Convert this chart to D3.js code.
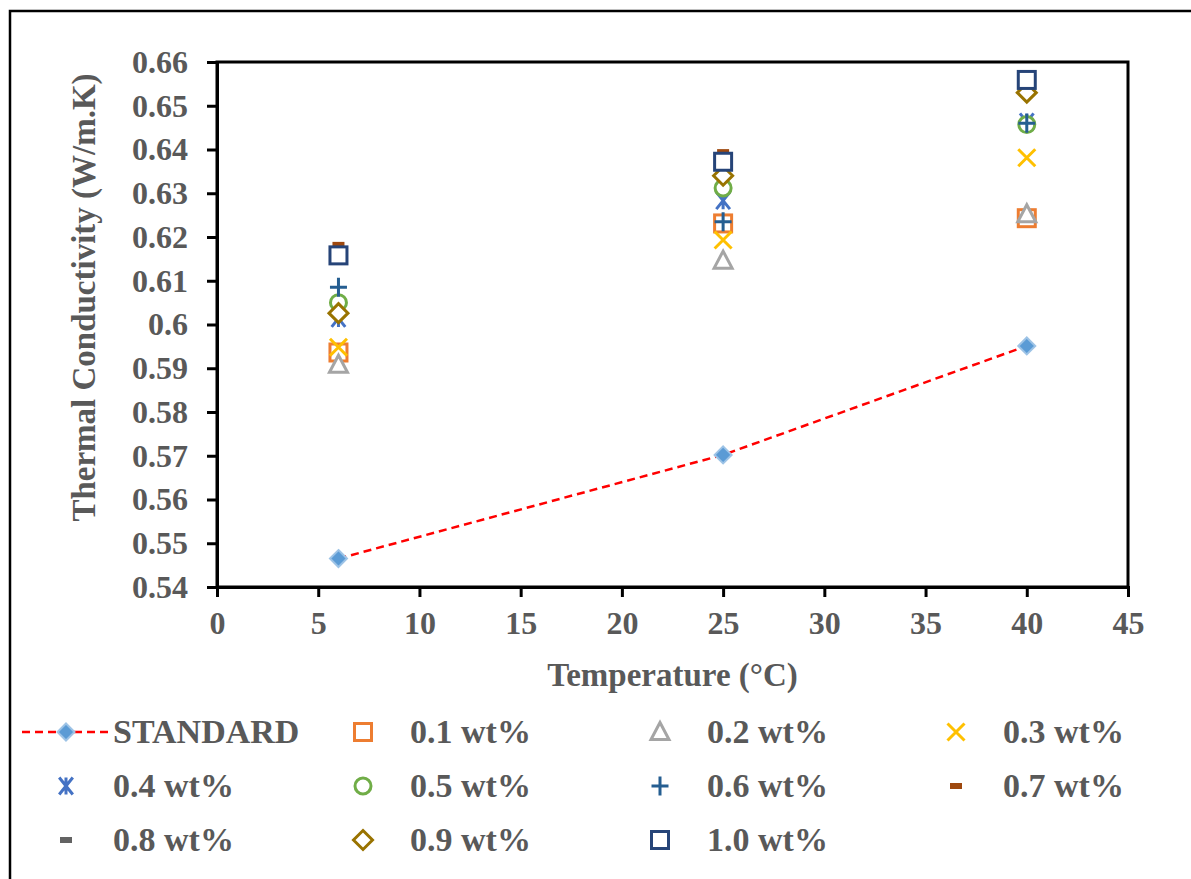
<!DOCTYPE html>
<html><head><meta charset="utf-8">
<script src="https://cdn.jsdelivr.net/npm/d3@7"></script>
<style>body{margin:0;background:#fff}svg{display:block}</style>
</head><body>
<script>
const temps = [6, 25, 40];
const standard = [0.5465, 0.5702, 0.5951];
const seriesNames = ["0.1 wt%","0.2 wt%","0.3 wt%","0.4 wt%","0.5 wt%","0.6 wt%","0.7 wt%","0.8 wt%","0.9 wt%","1.0 wt%"];
const v01 = [0.5936, 0.6231, 0.6243];
const v02 = [0.5908, 0.6146, 0.6252];
const v03 = [0.5948, 0.6193, 0.6381];
const v04 = [0.6014, 0.6283, 0.6463];
const v05 = [0.6050, 0.6312, 0.6457];
const v06 = [0.6085, 0.6235, 0.6460];
const v07 = [0.6182, 0.6394, 0.6562];
const v08 = [0.6162, 0.6375, 0.6558];
const v09 = [0.6026, 0.6340, 0.6530];
const v10 = [0.6158, 0.6372, 0.6559];
const seriesValues = [v01,v02,v03,v04,v05,v06,v07,v08,v09,v10];
const seriesColors = ["#ED7D31","#A5A5A5","#FFC000","#4472C4","#70AD47","#255E91","#9E480E","#636363","#997300","#264478"];
const seriesShapes = ["square","triangle","x","asterisk","circle","plus","dash","dash","diamond","square"];
const xTicks = [0,5,10,15,20,25,30,35,40,45];
const yTicks = [0.54,0.55,0.56,0.57,0.58,0.59,0.6,0.61,0.62,0.63,0.64,0.65,0.66];

const W = 1191, H = 879;
const svg = d3.select("body").append("svg").attr("width", W).attr("height", H);
const font = "'Liberation Serif','Times New Roman',serif";
const textColor = "#595959";

// outer frame
svg.append("rect").attr("x",10).attr("y",11).attr("width",W+20).attr("height",H+20)
  .attr("fill","none").attr("stroke","#000").attr("stroke-width",2.5);

const x = d3.scaleLinear().domain([0,45]).range([217,1128]);
const y = d3.scaleLinear().domain([0.54,0.66]).range([587,62]);

// plot box
svg.append("rect").attr("x",x(0)).attr("y",y(0.66)).attr("width",x(45)-x(0)).attr("height",y(0.54)-y(0.66))
  .attr("fill","none").attr("stroke","#000").attr("stroke-width",3);

const xAxis = svg.append("g").attr("transform",`translate(0,${y(0.54)})`)
  .call(d3.axisBottom(x).tickValues(xTicks).tickSize(10).tickPadding(14).tickFormat(d3.format("d")));
const yAxis = svg.append("g").attr("transform",`translate(${x(0)},0)`)
  .call(d3.axisLeft(y).tickValues(yTicks).tickSize(10).tickPadding(19).tickFormat(d => String(+d.toFixed(2))));
[xAxis,yAxis].forEach(g=>{
  g.select(".domain").attr("stroke","#000").attr("stroke-width",3);
  g.selectAll(".tick line").attr("stroke","#000").attr("stroke-width",3);
  g.selectAll(".tick text").attr("fill",textColor).attr("font-family",font).attr("font-weight","bold").attr("font-size",32);
});

svg.append("text").attr("x",(x(0)+x(45))/2).attr("y",686).attr("text-anchor","middle")
  .attr("font-family",font).attr("font-weight","bold").attr("font-size",33).attr("fill",textColor)
  .text("Temperature (°C)");
svg.append("text").attr("transform",`translate(95,${(y(0.54)+y(0.66))/2 - 27}) rotate(-90)`).attr("text-anchor","middle")
  .attr("font-family",font).attr("font-weight","bold").attr("font-size",33).attr("fill",textColor)
  .text("Thermal Conductivity (W/m.K)");

function drawMarker(g, shape, color, cx, cy){
  const s = 8.5;
  if(shape==="square"){
    g.append("rect").attr("x",cx-s).attr("y",cy-s).attr("width",2*s).attr("height",2*s)
      .attr("fill","#fff").attr("stroke",color).attr("stroke-width",3);
  } else if(shape==="triangle"){
    g.append("path").attr("d",`M${cx},${cy-s-1}L${cx+s+0.5},${cy+s-1}L${cx-s-0.5},${cy+s-1}Z`)
      .attr("fill","#fff").attr("stroke",color).attr("stroke-width",3).attr("stroke-linejoin","miter");
  } else if(shape==="x"){
    g.append("path").attr("d",`M${cx-s},${cy-s}L${cx+s},${cy+s}M${cx+s},${cy-s}L${cx-s},${cy+s}`)
      .attr("stroke",color).attr("stroke-width",3);
  } else if(shape==="asterisk"){
    g.append("path").attr("d",`M${cx-s*0.8},${cy-s}L${cx+s*0.8},${cy+s}M${cx+s*0.8},${cy-s}L${cx-s*0.8},${cy+s}M${cx},${cy-s}L${cx},${cy+s}`)
      .attr("stroke",color).attr("stroke-width",3);
  } else if(shape==="circle"){
    g.append("circle").attr("cx",cx).attr("cy",cy).attr("r",s-0.5)
      .attr("fill","#fff").attr("stroke",color).attr("stroke-width",3);
  } else if(shape==="plus"){
    g.append("path").attr("d",`M${cx-s},${cy}L${cx+s},${cy}M${cx},${cy-s-1}L${cx},${cy+s+1}`)
      .attr("stroke",color).attr("stroke-width",3);
  } else if(shape==="dash"){
    g.append("rect").attr("x",cx-6).attr("y",cy-3).attr("width",12).attr("height",6).attr("fill",color);
  } else if(shape==="diamond"){
    g.append("path").attr("d",`M${cx},${cy-s-1}L${cx+s+1},${cy}L${cx},${cy+s+1}L${cx-s-1},${cy}Z`)
      .attr("fill","#fff").attr("stroke",color).attr("stroke-width",3);
  } else if(shape==="fdiamond"){
    g.append("path").attr("d",`M${cx},${cy-s}L${cx+s},${cy}L${cx},${cy+s}L${cx-s},${cy}Z`)
      .attr("fill",color).attr("stroke","#9DC3E6").attr("stroke-width",2);
  }
}

// standard line
const line = d3.line().x((d,i)=>x(temps[i])).y(d=>y(d));
svg.append("path").datum(standard).attr("d",line).attr("fill","none")
  .attr("stroke","#FF0000").attr("stroke-width",2.5).attr("stroke-dasharray","8,5");
const gStd = svg.append("g");
standard.forEach((v,i)=>drawMarker(gStd,"fdiamond","#5B9BD5",x(temps[i]),y(v)));

seriesValues.forEach((vals,k)=>{
  const g = svg.append("g");
  vals.forEach((v,i)=>drawMarker(g, seriesShapes[k], seriesColors[k], x(temps[i]), y(v)));
});

// legend
const legCols = [66, 363, 660, 956];
const legRows = [732, 786, 840];
const legendItems = [{name:"STANDARD", shape:"std"}].concat(seriesNames.map((n,k)=>({name:n, shape:seriesShapes[k], color:seriesColors[k]})));
legendItems.forEach((it,idx)=>{
  const col = idx % 4, row = Math.floor(idx/4);
  const cx = legCols[col], cy = legRows[row];
  const g = svg.append("g");
  if(it.shape==="std"){
    g.append("line").attr("x1",cx-44).attr("x2",cx+44).attr("y1",cy).attr("y2",cy)
      .attr("stroke","#FF0000").attr("stroke-width",2.5).attr("stroke-dasharray","8,5");
    drawMarker(g,"fdiamond","#5B9BD5",cx,cy);
  } else {
    drawMarker(g, it.shape, it.color, cx, cy);
  }
  g.append("text").attr("x",cx+47).attr("y",cy+11).attr("font-family",font).attr("font-weight","bold")
    .attr("font-size",34).attr("fill",textColor).text(it.name);
});
</script>
</body></html>
